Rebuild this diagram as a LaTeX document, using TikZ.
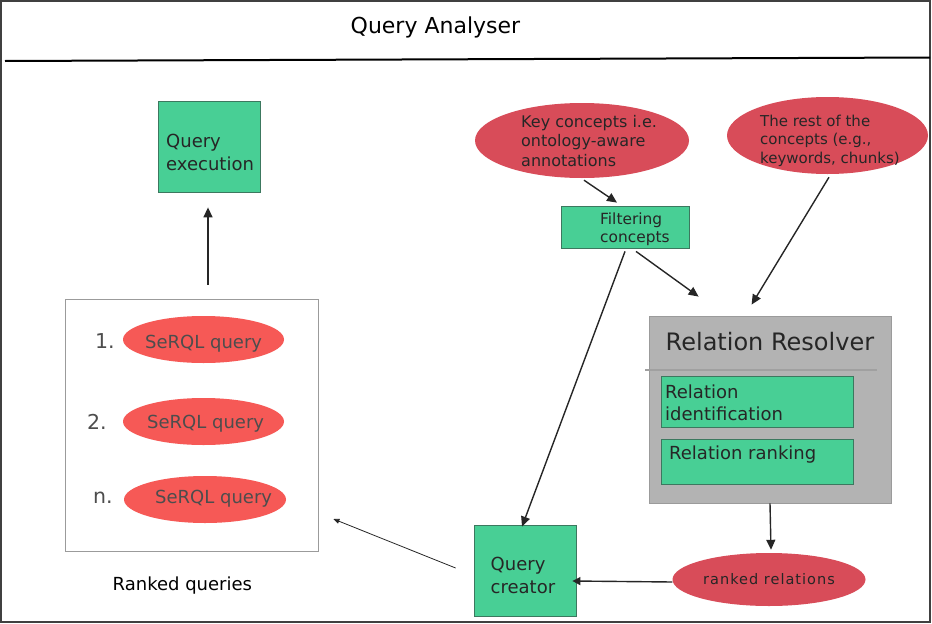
\documentclass[tikz,border=0pt]{standalone}
\usepackage{fontspec}
\setmainfont{DejaVu Sans}
\usetikzlibrary{shapes.geometric,arrows.meta,calc}
\definecolor{boxgreen}{RGB}{72,207,149}
\definecolor{boxedge}{RGB}{60,120,95}
\definecolor{ellred}{RGB}{216,76,89}
\definecolor{qred}{RGB}{246,89,86}
\definecolor{rrgray}{RGB}{179,179,179}
\definecolor{rredge}{RGB}{155,155,155}
\definecolor{sepc}{RGB}{160,160,160}
\definecolor{txt}{RGB}{38,38,38}
\definecolor{qtxt}{RGB}{77,77,77}
\definecolor{framec}{RGB}{64,64,64}
\begin{document}
\begin{tikzpicture}[x=1pt,y=-1pt,
  greenbox/.style={draw=boxedge, fill=boxgreen, line width=0.8pt, inner sep=0pt},
  ellnode/.style={ellipse, fill=ellred, inner sep=0pt},
  qnode/.style={ellipse, fill=qred, inner sep=0pt, minimum width=161, minimum height=47},
  lbl/.style={anchor=base west, inner sep=0pt, text=txt, align=left},
  qlbl/.style={anchor=base west, inner sep=0pt, text=qtxt},
  arr/.style={draw=txt, line width=1.4pt, -{Triangle[length=10pt,width=9pt]}},
  thinarr/.style={draw=txt, line width=0.8pt, -{Triangle[length=6pt,width=5pt]}},
]
\useasboundingbox (0,0) rectangle (932,624);
\draw[framec, line width=2pt] (1,1) rectangle (930,622);

% title
\node[lbl, text=black, font={\fontsize{22}{26}\selectfont}] (title) at (350.5,33) {Query Analyser};
\draw[black, line width=2pt] (5,61) -- (930,57.5);

% boxes
\node[greenbox, minimum width=102, minimum height=91] (qe) at (209,146.5) {};
\node[lbl, font={\fontsize{18}{23}\selectfont}] (qet) at (166,170) {Query\\execution};

\node[draw=rredge, fill=white, line width=0.8pt, minimum width=253, minimum height=252, inner sep=0pt] (rq) at (191.5,425) {};

\node[qnode] (s1) at (203.5,339.5) {};
\node[qnode] (s2) at (203.5,421.5) {};
\node[qnode, minimum width=162] (s3) at (205,499.5) {};
\node[qlbl, font={\fontsize{18}{22}\selectfont}] (s1t) at (145,348) {SeRQL query};
\node[qlbl, font={\fontsize{18}{22}\selectfont}] (s2t) at (147,428) {SeRQL query};
\node[qlbl, font={\fontsize{18}{22}\selectfont}] (s3t) at (155,503) {SeRQL query};
\node[qlbl, font={\fontsize{20.5}{24}\selectfont}] (n1) at (95,348) {1.};
\node[qlbl, font={\fontsize{20.5}{24}\selectfont}] (n2) at (87,429) {2.};
\node[qlbl, font={\fontsize{20.5}{24}\selectfont}] (n3) at (93,503) {n.};
\node[lbl, text=black, font={\fontsize{18}{22}\selectfont}] (rqt) at (112.5,590) {Ranked queries};

\node[ellnode, minimum width=214, minimum height=75] (key) at (582,140.5) {};
\node[lbl, font={\fontsize{16}{19.5}\selectfont}] (keyt) at (521,166) {Key concepts i.e.\\ontology-aware\\annotations};
\node[ellnode, minimum width=201, minimum height=77] (rest) at (827.5,135.5) {};
\node[lbl, font={\fontsize{15}{18.5}\selectfont}] (restt) at (760,163) {The rest of the\\concepts (e.g.,\\keywords, chunks)};

\node[greenbox, minimum width=128, minimum height=42] (filt) at (625,227) {};
\node[lbl, font={\fontsize{15.4}{18}\selectfont}] (filtt) at (600,242) {Filtering\\concepts};

\node[draw=rredge, fill=rrgray, line width=0.8pt, minimum width=242, minimum height=187, inner sep=0pt] (rr) at (770,409.5) {};
\node[lbl, font={\fontsize{24}{28}\selectfont}] (rrt) at (665.5,350) {Relation Resolver};
\draw[sepc, line width=2pt] (645,369.5) -- (877,369.5);
\node[greenbox, minimum width=192, minimum height=51] (rid) at (757,401.5) {};
\node[lbl, font={\fontsize{18}{22}\selectfont}] (ridt) at (665,420) {Relation\\identification};
\node[greenbox, minimum width=192, minimum height=45] (rrank) at (757,461.5) {};
\node[lbl, font={\fontsize{18}{22}\selectfont}] (rrankt) at (669,459) {Relation ranking};

\node[ellnode, minimum width=193, minimum height=53, text=txt,
      font={\fontsize{14.5}{17}\selectfont\addfontfeatures{LetterSpace=7}}] (rrel) at (769,579.5) {ranked relations};

\node[greenbox, minimum width=102, minimum height=91] (qc) at (525,570.5) {};
\node[lbl, font={\fontsize{18}{23}\selectfont}] (qct) at (490.5,593) {Query\\creator};

% connectors
\draw[arr] ($(qe.south |- rq.north)+(-1,-14)$) -- ($(qe.south)+(-1,15)$);
\draw[arr] ($(key.south)+(2,2)$) -- ($(filt.north)+(-8,-3)$);
\draw[arr] ($(filt.south)+(11,3)$) -- ($(rr.north west)+(50,-19)$);
\draw[arr] ($(rest.south)+(1.5,3)$) -- ($(rr.north west)+(103,-11)$);
\draw[arr] ($(filt.south)+(0,3)$) -- ($(qc.north)+(-3,2)$);
\draw[arr] (rr.south) -- ($(rrel.north)+(2,-3)$);
\draw[arr, -{Triangle[length=8pt,width=8pt]}] ($(rrel.west)+(0,2.5)$) -- ($(qc.east)+(-4,10.5)$);
\draw[thinarr] ($(qc.west)+(-18,-2.5)$) -- ($(rq.east)+(15,94)$);
\end{tikzpicture}
\end{document}
